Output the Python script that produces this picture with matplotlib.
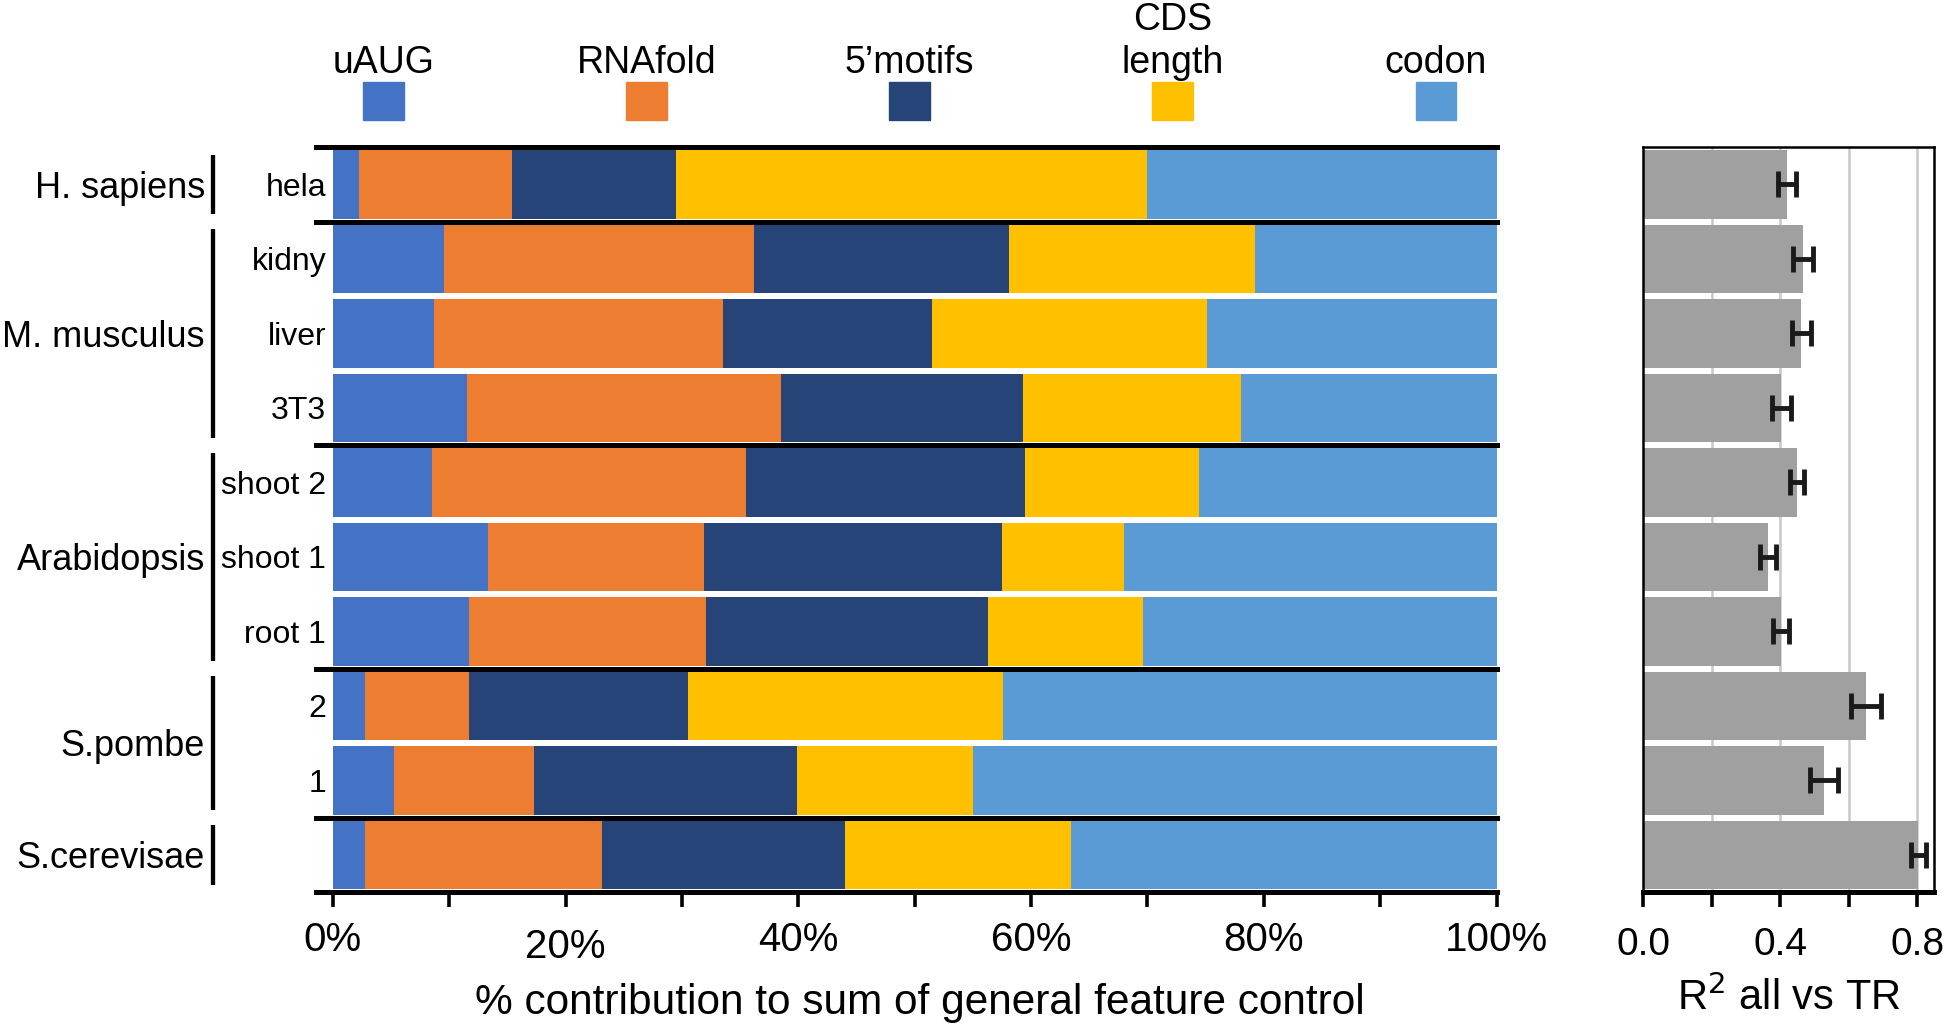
import matplotlib

matplotlib.use("Agg")
import matplotlib.pyplot as plt
from matplotlib.patches import Rectangle
from matplotlib.transforms import blended_transform_factory

plt.rcParams["font.family"] = ["Liberation Sans", "DejaVu Sans"]

# data (percent of summed feature control)
samples = ["hela", "kidny", "liver", "3T3", "shoot 2", "shoot 1", "root 1", "2", "1", ""]
features = ["uAUG", "RNAfold", "5\u2019motifs", "CDS\nlength", "codon"]
uaug = [2.3, 9.6, 8.7, 11.5, 8.5, 13.3, 11.7, 2.8, 5.3, 2.8]
rnafold = [13.1, 26.6, 24.8, 27.0, 27.0, 18.6, 20.4, 8.9, 12.0, 20.3]
motifs = [14.1, 21.9, 18.0, 20.8, 24.0, 25.6, 24.2, 18.8, 22.6, 20.9]
cds_len = [40.5, 21.1, 23.6, 18.7, 14.9, 10.5, 13.3, 27.1, 15.1, 19.4]
codon = [30.0, 20.8, 24.9, 22.0, 25.6, 32.0, 30.4, 42.4, 45.0, 36.6]

groups = ["H. sapiens", "M. musculus", "Arabidopsis", "S.pombe", "S.cerevisae"]
group_rows = [(0, 0), (1, 3), (4, 6), (7, 8), (9, 9)]

r2 = [0.42, 0.466, 0.461, 0.403, 0.449, 0.364, 0.403, 0.65, 0.528, 0.803]
r2_err = [0.027, 0.028, 0.028, 0.028, 0.02, 0.022, 0.023, 0.044, 0.04, 0.022]

colors = ["#4472c4", "#ed7d31", "#264478", "#ffc000", "#5b9bd5"]

fig = plt.figure(figsize=(19.46, 10.28), dpi=100)
ax = fig.add_axes([0.1626, 0.1322, 0.6065, 0.7247])
ax2 = fig.add_axes([0.8444, 0.1322, 0.1492, 0.7247])

rows = list(range(len(samples)))
left = [0.0] * len(samples)
for vals, col in zip([uaug, rnafold, motifs, cds_len, codon], colors):
    ax.barh(rows, vals, left=left, height=0.92, color=col, linewidth=0)
    left = [a + b for a, b in zip(left, vals)]

ax.set_xlim(-1.4, 100)
ax.set_ylim(len(samples) - 0.5, -0.5)
for s in ["top", "right", "left"]:
    ax.spines[s].set_visible(False)
ax.spines["bottom"].set_linewidth(3.6)
ax.set_yticks(rows, samples, fontsize=23)
ax.tick_params(axis="y", length=0, pad=-7)
ax.set_xticks(range(0, 101, 10))
ax.tick_params(axis="x", length=11, width=2.6, labelbottom=False)

# black separators between organisms
for start, end in group_rows:
    ax.axhline(start - 0.5, color="black", lw=3.6, clip_on=False, zorder=5)

# tick labels drawn by hand (the 20% one sits a little lower)
tlab = blended_transform_factory(ax.transData, fig.transFigure)
for v in range(0, 101, 20):
    y = 0.0785 if v == 20 else 0.0857
    ax.text(v, y, f"{v}%", transform=tlab, ha="center", va="center", fontsize=29)
fig.text(0.4725, 0.024, "% contribution to sum of general feature control",
         ha="center", va="center", fontsize=30.5)

# organism brackets and names
tbr = blended_transform_factory(fig.transFigure, ax.transData)
for name, (start, end) in zip(groups, group_rows):
    ax.plot([0.1097, 0.1097], [start - 0.4, end + 0.4], color="black", lw=3.1,
            transform=tbr, clip_on=False, solid_capstyle="butt")
    ax.text(0.1053, (start + end) / 2 + 0.05, name, transform=tbr, ha="right",
            va="center", fontsize=26)

# legend across the top
for i, (lab, col) in enumerate(zip(features, colors)):
    cx = 0.1971 + i * 0.1352
    fig.patches.append(Rectangle((cx - 0.0105, 0.8829), 0.021, 0.0374,
                                 transform=fig.transFigure, color=col))
    lines = lab.split("\n")
    for j, line in enumerate(reversed(lines)):
        fig.text(cx, 0.9287 + j * 0.0423, line, ha="center", va="baseline",
                 fontsize=27)

# R^2 panel
ax2.barh(rows, r2, height=0.92, color="#a0a0a0", linewidth=0, zorder=2)
ax2.errorbar(r2, rows, xerr=r2_err, fmt="none", ecolor="#1a1a1a",
             elinewidth=3.5, capsize=9.5, capthick=3.5, zorder=3)
ax2.set_xlim(0, 0.847)
ax2.set_ylim(len(samples) - 0.5, -0.5)
ax2.set_yticks([])
ax2.set_xticks([0, 0.2, 0.4, 0.6, 0.8], ["0.0", "", "0.4", "", "0.8"])
ax2.tick_params(axis="x", length=11, width=2.6, labelsize=28, pad=14)
for g in [0.2, 0.4, 0.6, 0.8]:
    ax2.axvline(g, color="#c8c8c8", lw=1.8, zorder=1)
for s in ["top", "right", "left"]:
    ax2.spines[s].set_linewidth(1.8)
ax2.spines["bottom"].set_linewidth(3.6)
ax2.set_xlabel("R$^2$ all vs TR", fontsize=30, labelpad=10)

fig.savefig("out.png", dpi=100)
